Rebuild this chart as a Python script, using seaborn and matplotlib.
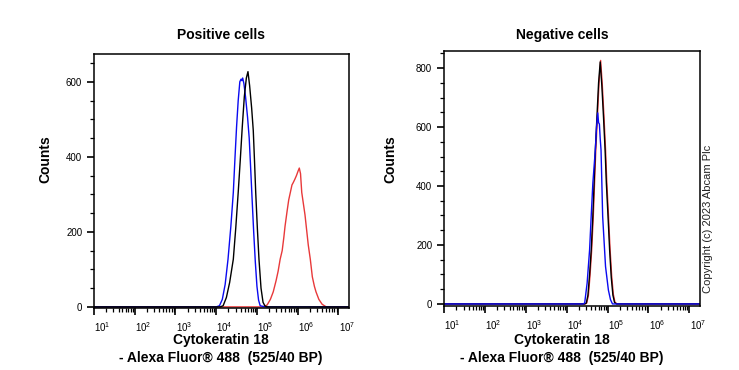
import numpy as np
import matplotlib
matplotlib.use('Agg')
import matplotlib.pyplot as plt
import matplotlib.ticker as mticker
import matplotlib.transforms as mtransforms
import seaborn as sns

# Histogram traces: x in log10 decades, y in counts
pos_blue_x = [0.9, 4.0, 4.08, 4.15, 4.22, 4.29, 4.36, 4.42, 4.46, 4.50, 4.54, 4.58, 4.61, 4.63, 4.65,
              4.68, 4.72, 4.77, 4.81, 4.85, 4.88, 4.92, 4.96, 5.0, 5.04, 5.08, 5.2, 7.3]
pos_blue_y = [0, 0, 3, 20, 60, 127, 215, 305, 395, 480, 550, 600, 607, 603, 610,
              595, 560, 505, 450, 360, 290, 200, 120, 55, 18, 3, 0, 0]

pos_black_x = [0.9, 4.1, 4.17, 4.25, 4.33, 4.42, 4.48, 4.54, 4.59, 4.64, 4.69, 4.74, 4.78, 4.82,
               4.87, 4.91, 4.94, 4.97, 5.01, 5.05, 5.1, 5.15, 5.2, 5.25, 7.3]
pos_black_y = [0, 0, 3, 25, 65, 127, 210, 305, 390, 480, 560, 610, 627, 590,
               530, 470, 390, 305, 210, 127, 50, 12, 2, 0, 0]

pos_red_x = [0.9, 5.15, 5.25, 5.33, 5.4, 5.47, 5.52, 5.57, 5.62, 5.66, 5.69, 5.74, 5.78, 5.82, 5.86,
             5.89, 5.93, 5.97, 6.01, 6.04, 6.07, 6.1, 6.14, 6.18, 6.21, 6.26, 6.31, 6.36, 6.41,
             6.45, 6.52, 6.6, 6.7, 7.3]
pos_red_y = [0, 0, 5, 20, 40, 70, 95, 127, 150, 185, 215, 255, 285, 305, 325,
             331, 340, 350, 362, 370, 355, 305, 275, 245, 215, 165, 127, 80, 55,
             40, 20, 7, 0, 0]

neg_red_x = [0.9, 4.45, 4.49, 4.53, 4.57, 4.61, 4.65, 4.68, 4.71, 4.75, 4.79, 4.83, 4.87, 4.91,
             4.95, 4.98, 5.02, 5.06, 5.1, 5.14, 5.18, 5.23, 7.3]
neg_red_y = [0, 0, 3, 28, 95, 180, 295, 405, 515, 630, 748, 826, 745, 640,
             525, 415, 305, 188, 95, 33, 6, 0, 0]

neg_black_x = [0.9, 4.44, 4.48, 4.52, 4.56, 4.6, 4.64, 4.67, 4.7, 4.74, 4.78, 4.82, 4.86, 4.9,
               4.94, 4.97, 5.01, 5.05, 5.09, 5.13, 5.17, 5.22, 7.3]
neg_black_y = [0, 0, 3, 30, 100, 183, 300, 410, 520, 635, 750, 821, 740, 635,
               520, 410, 300, 183, 90, 30, 5, 0, 0]

neg_blue_x = [0.9, 4.40, 4.44, 4.5, 4.56, 4.6, 4.64, 4.7, 4.73, 4.76, 4.78, 4.8, 4.82, 4.84,
              4.88, 4.95, 5.02, 5.07, 5.12, 7.3]
neg_blue_y = [0, 0, 3, 71, 183, 300, 410, 522, 600, 648, 615, 610, 560, 522,
              296, 127, 47, 15, 0, 0]

panel_titles = ['Positive cells', 'Negative cells']
x_label_1 = 'Cytokeratin 18'
x_label_2 = '- Alexa Fluor® 488  (525/40 BP)'
decades = [1, 2, 3, 4, 5, 6, 7]

sns.set_style('ticks')
plt.rcParams['font.family'] = ['Liberation Sans', 'DejaVu Sans']
plt.rcParams['mathtext.default'] = 'regular'
plt.rcParams['text.color'] = 'black'
plt.rcParams['xtick.color'] = 'black'
plt.rcParams['ytick.color'] = 'black'
plt.rcParams['xtick.labelcolor'] = 'black'
plt.rcParams['ytick.labelcolor'] = 'black'

fig = plt.figure(figsize=(7.39, 3.70), dpi=100)
ax1 = fig.add_axes([94 / 739, 1 - 308 / 370, 255 / 739, 254 / 370])
ax2 = fig.add_axes([444 / 739, 1 - 306 / 370, 256 / 739, 255 / 370])

RED = '#e8393a'
BLUE = '#0a0af0'
lw = 1.0

sns.lineplot(x=10 ** np.array(pos_red_x), y=pos_red_y, ax=ax1, color=RED, lw=lw)
sns.lineplot(x=10 ** np.array(pos_blue_x), y=pos_blue_y, ax=ax1, color=BLUE, lw=lw)
sns.lineplot(x=10 ** np.array(pos_black_x), y=pos_black_y, ax=ax1, color='black', lw=lw)

sns.lineplot(x=10 ** np.array(neg_red_x), y=neg_red_y, ax=ax2, color=RED, lw=lw)
sns.lineplot(x=10 ** np.array(neg_black_x), y=neg_black_y, ax=ax2, color='black', lw=lw)
sns.lineplot(x=10 ** np.array(neg_blue_x), y=neg_blue_y, ax=ax2, color=BLUE, lw=lw)

ax1.set_ylim(-3, 674)
ax2.set_ylim(-7, 858)
ax1.set_yticks([0, 200, 400, 600])
ax2.set_yticks([0, 200, 400, 600, 800])

offset = mtransforms.ScaledTranslation(6 / 72, 0, fig.dpi_scale_trans)
for ax, title, cx in [(ax1, panel_titles[0], 221), (ax2, panel_titles[1], 562)]:
    ax.set_xscale('log')
    ax.set_xlim(10 ** 1.0, 10 ** 7.26)
    ax.set_xticks([10 ** d for d in decades])
    ax.set_xticklabels(['$10^{%d}$' % d for d in decades])
    ax.xaxis.set_minor_locator(mticker.LogLocator(base=10, subs=np.arange(2, 10), numticks=20))
    ax.xaxis.set_minor_formatter(mticker.NullFormatter())
    ax.yaxis.set_minor_locator(mticker.MultipleLocator(50))
    ax.tick_params(which='major', direction='out', length=5, width=1.2, labelsize=7, color='black')
    ax.tick_params(which='minor', direction='out', length=2.6, width=0.9, color='black')
    ax.tick_params(axis='x', which='major', pad=4)
    for lab in ax.get_xticklabels():
        lab.set_transform(lab.get_transform() + offset)
    for sp in ax.spines.values():
        sp.set_visible(True)
        sp.set_linewidth(1.1)
        sp.set_color('black')
    ax.set_xlabel('')
    ax.set_ylabel('')
    fig.text(cx / 739, 1 - 35 / 370, title, ha='center', va='center', fontsize=10, fontweight='bold')
    fig.text(cx / 739, 1 - 340 / 370, x_label_1, ha='center', va='center', fontsize=10, fontweight='bold')
    fig.text(cx / 739, 1 - 358 / 370, x_label_2, ha='center', va='center', fontsize=10, fontweight='bold')

fig.text(45 / 739, 1 - 159 / 370, 'Counts', rotation=90, ha='center', va='center', fontsize=10, fontweight='bold')
fig.text(390 / 739, 1 - 159 / 370, 'Counts', rotation=90, ha='center', va='center', fontsize=10, fontweight='bold')
fig.text(708 / 739, 1 - 219 / 370, 'Copyright (c) 2023 Abcam Plc', rotation=90, ha='center', va='center',
         fontsize=8, color='#222222')

fig.savefig('out.png', dpi=100)
